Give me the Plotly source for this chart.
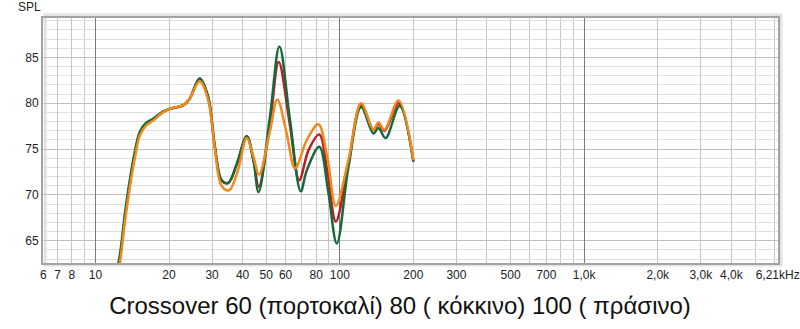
import math
import plotly.graph_objects as go

# ---- data ----
f_orange = [11.8, 12.58, 13.19, 13.8, 14.49, 15.2, 16.17, 17.2, 18.9, 20.2, 22.9, 24.3, 26.7, 28.9, 30.8, 32.8, 35.2, 38.2, 41.6, 44.3, 46.7, 51.8, 55.5, 60.5, 65.6, 73.3, 81.7, 89.0, 96.3, 108.4, 122.2, 137.3, 143.9, 152.3, 173.8, 200.0]
db_orange = [59.0, 62.5, 67.0, 70.7, 74.0, 76.5, 77.6, 78.1, 79.0, 79.4, 79.8, 80.5, 82.4, 80.4, 75.0, 71.0, 70.5, 72.6, 76.2, 74.2, 72.2, 77.0, 80.4, 76.8, 72.9, 76.0, 77.7, 74.0, 68.8, 73.8, 80.0, 77.1, 77.9, 77.1, 80.3, 73.8]

f_red = [11.8, 12.58, 13.19, 13.8, 14.49, 15.2, 16.17, 17.2, 18.9, 20.2, 22.9, 24.3, 26.7, 28.9, 30.8, 32.8, 34.9, 37.8, 41.6, 44.3, 46.6, 51.8, 56.2, 62.5, 68.2, 74.5, 82.4, 89.0, 96.3, 108.4, 122.2, 137.3, 143.9, 152.3, 174.0, 200.0]
db_red = [59.5, 63.0, 67.5, 71.2, 74.5, 76.8, 77.8, 78.2, 79.05, 79.4, 79.8, 80.5, 82.7, 80.7, 75.25, 71.6, 71.3, 73.3, 76.4, 73.8, 70.9, 77.8, 84.5, 77.6, 71.6, 74.9, 76.6, 72.5, 67.1, 73.4, 79.8, 77.1, 77.7, 77.0, 80.0, 73.7]

f_green = [11.8, 12.58, 13.19, 13.8, 14.49, 15.2, 16.17, 17.2, 18.9, 20.2, 22.9, 24.3, 26.7, 28.9, 30.8, 32.8, 34.9, 37.8, 41.6, 44.3, 46.5, 51.8, 56.6, 62.5, 69.2, 73.3, 82.4, 89.5, 97.2, 108.4, 122.2, 137.3, 143.9, 153.9, 175.6, 200.0]
db_green = [59.8, 63.4, 67.9, 71.5, 74.7, 76.9, 77.9, 78.3, 79.1, 79.4, 79.8, 80.5, 82.7, 80.7, 75.25, 71.6, 71.3, 73.3, 76.4, 73.8, 70.3, 78.6, 86.2, 78.2, 70.4, 72.7, 75.25, 70.5, 64.7, 73.0, 79.6, 76.7, 77.3, 76.2, 79.7, 73.6]

x_tickvals = [6.12, 7, 8, 10, 20, 30, 40, 50, 60, 80, 100, 200, 300, 500, 700, 1000, 2000, 3000, 4000, 6190]
x_ticktext = ["6", "7", "8", "10", "20", "30", "40", "50", "60", "80", "100", "200", "300", "500", "700", "1,0k", "2,0k", "3,0k", "4,0k", "6,21kHz"]
x_minor = [9, 70, 90, 400, 600, 800, 900, 5000, 6000]
x_decades = [10, 100, 1000]
y_tickvals = [65, 70, 75, 80, 85]

title_text = "Crossover 60 (πορτοκαλί) 80 ( κόκκινο) 100 ( πράσινο)"

FONT = "Liberation Sans, Arial, sans-serif"
xr = [math.log10(6.1), math.log10(6210)]

fig = go.Figure()
series = [
    ("80", f_red, db_red, "#bf1a1f"),
    ("100", f_green, db_green, "#17693b"),
    ("60", f_orange, db_orange, "#f08a1c"),
]
for name, fx, fy, col in series:
    fig.add_trace(go.Scatter(x=fx, y=fy, mode="lines", name=name,
                             line=dict(color=col, width=2.5, shape="spline", smoothing=1.0),
                             hoverinfo="skip", showlegend=False))
# empty trace to host decade grid axis
fig.add_trace(go.Scatter(x=[], y=[], xaxis="x2", showlegend=False, hoverinfo="skip"))

fig.update_layout(
    width=800, height=329,
    margin=dict(l=43, r=22, t=18, b=66, autoexpand=False),
    paper_bgcolor="white", plot_bgcolor="white",
    font=dict(family=FONT, size=12, color="#222"),
    xaxis=dict(type="log", range=xr, tickmode="array", tickvals=x_tickvals, ticktext=x_ticktext,
               showgrid=True, gridcolor="#c6c6c6", gridwidth=1, ticks="", zeroline=False,
               showline=True, linecolor="#a4a4a4", linewidth=2, mirror=True, automargin=False,
               minor=dict(tickmode="array", tickvals=x_minor, showgrid=True, gridcolor="#c6c6c6", ticks=""),
               tickfont=dict(size=12, color="#222")),
    xaxis2=dict(type="log", range=xr, overlaying="x", tickmode="array", tickvals=x_decades,
                showticklabels=False, showgrid=True, gridcolor="#7c7c7c", gridwidth=1, ticks="",
                zeroline=False, showline=False, automargin=False),
    yaxis=dict(range=[62.57, 89.3], tickmode="array", tickvals=y_tickvals,
               showgrid=True, gridcolor="#c2c2c2", gridwidth=1, ticks="", zeroline=False,
               showline=True, linecolor="#a4a4a4", linewidth=2, mirror=True, automargin=False,
               minor=dict(dtick=1, showgrid=True, gridcolor="#e0e0e0", ticks=""),
               tickfont=dict(size=12, color="#222")),
    title=dict(text=title_text, x=0.5, xref="container", xanchor="center",
               y=1 - 306 / 329, yref="container", yanchor="middle",
               font=dict(family=FONT, size=24, color="#111")),
    annotations=[dict(text="SPL", xref="paper", yref="paper", x=0, y=1, xanchor="right",
                      yanchor="bottom", xshift=0, yshift=2, showarrow=False,
                      font=dict(family=FONT, size=12, color="#222"))],
    shapes=[dict(type="rect", xref="paper", yref="paper", x0=0.003, x1=1.004, y0=-0.008, y1=1.012,
                 line=dict(color="#e2e2e2", width=3), layer="below")],
)

fig.write_html("out.html")
